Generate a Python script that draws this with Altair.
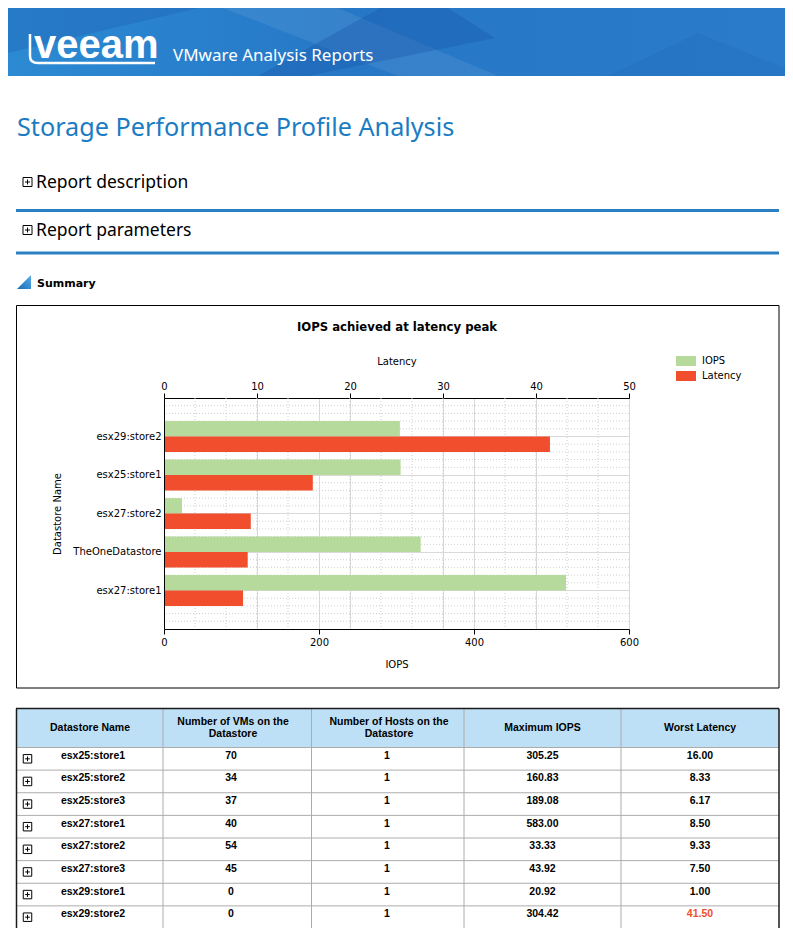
import altair as alt
import pandas as pd

# ---------------- data ----------------
stores = ["esx29:store2", "esx25:store1", "esx27:store2", "TheOneDatastore", "esx27:store1"]
iops_at_peak = [304.4, 305.3, 23.2, 331.2, 518.7]
latency_at_peak = [41.5, 16.0, 9.33, 9.0, 8.5]
series_names = ["IOPS", "Latency"]
series_colors = ["#b5da9b", "#f04e2c"]

iops_major = [0, 200, 400, 600]
iops_minor = [40, 80, 120, 160, 240, 280, 320, 360, 440, 480, 520, 560]
latency_ticks = [0, 10, 20, 30, 40, 50]
row_minor = [1, 2, 3, 4, 6, 7, 8, 9, 11, 12, 13, 14, 16, 17, 18, 19, 21, 22, 23, 24, 26, 27, 28, 29]

tbl_names = ["esx25:store1", "esx25:store2", "esx25:store3", "esx27:store1",
             "esx27:store2", "esx27:store3", "esx29:store1", "esx29:store2"]
tbl_vms = [70, 34, 37, 40, 54, 45, 0, 0]
tbl_hosts = [1, 1, 1, 1, 1, 1, 1, 1]
tbl_max_iops = [305.25, 160.83, 189.08, 583.00, 33.33, 43.92, 20.92, 304.42]
tbl_worst_latency = [16.00, 8.33, 6.17, 8.50, 9.33, 7.50, 1.00, 41.50]
tbl_headers = ["Datastore Name", "Number of VMs on the\nDatastore",
               "Number of Hosts on the\nDatastore", "Maximum IOPS", "Worst Latency"]

# ---------------- layout helpers (page px -> view px) ----------------
OX, OY = 164, 398
W, H = 465, 231


def X(px):
    return px - OX


def Y(py):
    return py - OY


one = pd.DataFrame({"k": [0]})


def deco():
    return alt.Chart(one)


def text_at(txt, px, py, size, font, color="#000", weight="normal", align="left", lb=None):
    kw = dict(text=txt, font=font, fontSize=size, fontWeight=weight, color=color,
              align=align, baseline="alphabetic")
    if lb:
        kw["lineBreak"] = lb
        kw["lineHeight"] = 11.7
    return deco().mark_text(**kw).encode(x=alt.value(X(px)), y=alt.value(Y(py)))


def shape_at(path, px, py, size, fill=None, stroke=None, sw=1, opacity=1.0):
    kw = dict(shape=path, size=size, opacity=opacity)
    if fill is not None:
        kw.update(filled=True, fill=fill, strokeWidth=0)
    else:
        kw.update(filled=False, stroke=stroke, strokeWidth=sw)
    return deco().mark_point(**kw).encode(x=alt.value(X(px)), y=alt.value(Y(py)))


def hline(py, px1, px2, color, sw):
    return deco().mark_rule(color=color, strokeWidth=sw).encode(
        x=alt.value(X(px1)), x2=alt.value(X(px2)), y=alt.value(Y(py)))


def vline(px, py1, py2, color, sw):
    return deco().mark_rule(color=color, strokeWidth=sw).encode(
        x=alt.value(X(px)), y=alt.value(Y(py1)), y2=alt.value(Y(py2)))


layers = []

# ---------------- banner ----------------
layers.append(deco().mark_rect(fill=alt.Gradient(
    gradient="linear",
    stops=[alt.GradientStop(color="#2c8ad2", offset=0),
           alt.GradientStop(color="#2677c6", offset=0.45),
           alt.GradientStop(color="#2a7ccb", offset=1)],
    x1=0, x2=1, y1=0, y2=0)).encode(
    x=alt.value(X(8)), x2=alt.value(X(785)), y=alt.value(Y(8)), y2=alt.value(Y(76))))
layers.append(shape_at("M0,0H190L0,45Z", 8, 8, 4, fill="#1d5fb2", opacity=0.35))
layers.append(shape_at("M215,0H330L490,68H390Z", 8, 8, 4, fill="#ffffff", opacity=0.08))
layers.append(shape_at("M372,0H440L487,30L300,68H250Z", 8, 8, 4, fill="#1a55a8", opacity=0.35))
layers.append(shape_at("M600,68L690,25L777,60V68Z", 8, 8, 4, fill="#1a55a8", opacity=0.15))
layers.append(shape_at("M0,0V22Q0,29,8,29H125", 30, 34, 4, stroke="#ffffff", sw=2.5))
layers.append(text_at("veeam", 34, 58, 40, "Liberation Sans", "#ffffff", "bold"))
layers.append(text_at("VMware Analysis Reports", 173, 61, 17, "Noto Sans", "#ffffff"))

# ---------------- headings ----------------
PLUS = "M-1,-1H1V1H-1Z M-0.55,0H0.55 M0,-0.55V0.55"
layers.append(text_at("Storage Performance Profile Analysis", 17, 135.5, 25.2, "Noto Sans", "#1b7cc3"))
layers.append(shape_at(PLUS, 27.5, 182, 81, stroke="#000000"))
layers.append(text_at("Report description", 36, 188, 17.5, "Noto Sans"))
layers.append(hline(210.5, 16, 779, "#2a80c2", 3))
layers.append(shape_at(PLUS, 27.5, 230, 81, stroke="#000000"))
layers.append(text_at("Report parameters", 36, 236, 17.5, "Noto Sans"))
layers.append(hline(253, 16, 779, "#2a80c2", 3))
layers.append(shape_at("M14,0V14H0Z", 17, 275, 4, fill=alt.Gradient(
    gradient="linear",
    stops=[alt.GradientStop(color="#5aaee6", offset=0), alt.GradientStop(color="#1a6cb8", offset=1)],
    x1=1, x2=0, y1=0, y2=1)))
layers.append(text_at("Summary", 37, 287, 11, "DejaVu Sans", "#000", "bold"))

# ---------------- chart box ----------------
layers.append(deco().mark_rect(fillOpacity=0, stroke="#000000", strokeWidth=1).encode(
    x=alt.value(X(16.5)), x2=alt.value(X(779)), y=alt.value(Y(305.5)), y2=alt.value(Y(688))))
layers.append(text_at("IOPS achieved at latency peak", 397, 331, 11.7, "DejaVu Sans", "#000", "bold", "center"))

# ---------------- bar chart ----------------
chart_df = pd.DataFrame({"store": stores, "iops": iops_at_peak, "latency": latency_at_peak})
yscale = alt.Scale(domain=stores, paddingInner=0, paddingOuter=0.5)
iops_scale = alt.Scale(domain=[0, 600], nice=False, zero=True)
lat_scale = alt.Scale(domain=[0, 50], nice=False, zero=True)
color_scale = alt.Scale(domain=series_names, range=series_colors)

layers.append(alt.Chart(pd.DataFrame({"v": iops_minor})).mark_rule(
    color="#cfcfcf", strokeDash=[1, 2], strokeWidth=1).encode(
    x=alt.X("v:Q", scale=iops_scale, axis=None)))
layers.append(alt.Chart(pd.DataFrame({"h": row_minor})).mark_rule(
    color="#cfcfcf", strokeDash=[1, 2], strokeWidth=1).encode(
    y=alt.Y("h:Q", scale=alt.Scale(domain=[0, 30], nice=False, zero=False), axis=None)))

legend = alt.Legend(title=None, orient="none", legendX=X(681), legendY=Y(356),
                    symbolType="M-2,-1H2V1H-2Z", symbolSize=100, symbolStrokeWidth=0,
                    labelFont="DejaVu Sans", labelFontSize=10, labelColor="#000",
                    rowPadding=5, labelOffset=11, direction="vertical")

green = alt.Chart(chart_df).transform_calculate(series="'IOPS'").mark_bar(
    height=15.4, yOffset=-7.7).encode(
    y=alt.Y("store:N", scale=yscale, sort=stores,
            axis=alt.Axis(orient="left", title="Datastore Name", grid=False, ticks=False,
                          labelPadding=3, titlePadding=10, zindex=1)),
    x=alt.X("iops:Q", scale=iops_scale,
            axis=alt.Axis(orient="bottom", values=iops_major, title="IOPS", grid=True,
                          tickSize=5, labelPadding=3, titlePadding=12, labelFlush=False)),
    color=alt.Color("series:N", scale=color_scale, legend=legend))

red = alt.Chart(chart_df).transform_calculate(series="'Latency'").mark_bar(
    height=15.4, yOffset=7.7).encode(
    y=alt.Y("store:N", scale=yscale, sort=stores,
            axis=alt.Axis(orient="right", title=None, grid=True, labels=False, ticks=False,
                          domain=False)),
    x=alt.X("latency:Q", scale=lat_scale,
            axis=alt.Axis(orient="top", values=latency_ticks, title="Latency", grid=True,
                          tickSize=5, labelPadding=2, titlePadding=15, labelFlush=False)),
    color=alt.Color("series:N", scale=color_scale))
layers += [green, red]

# ---------------- table ----------------
col_bounds = [16, 163, 311.5, 464, 621, 779]
col_centers = [93, 231, 387, 542.5, 700]
TOP, HEAD_BOT, TBL_BOT = 708.5, 747.5, 928.5
tbl = pd.DataFrame({"name": tbl_names, "vms": tbl_vms, "hosts": tbl_hosts,
                    "iops": tbl_max_iops, "worst": tbl_worst_latency})
row_scale = alt.Scale(domain=tbl_names, range=[Y(HEAD_BOT), Y(TBL_BOT)], paddingInner=0, paddingOuter=0)

layers.append(deco().mark_rect(fill="#bee0f6").encode(
    x=alt.value(X(16)), x2=alt.value(X(779)), y=alt.value(Y(TOP)), y2=alt.value(Y(HEAD_BOT))))
for hdr, cx in zip(tbl_headers, col_centers):
    if "\n" in hdr:
        layers.append(text_at(hdr, cx + 2, 725, 10.5, "Liberation Sans", "#000", "bold", "center", "\n"))
    else:
        layers.append(text_at(hdr, cx - 3 if cx < 100 else cx, 731, 10.5, "Liberation Sans", "#000", "bold", "center"))

layers.append(alt.Chart(tbl).mark_rule(color="#acacac", strokeWidth=1).encode(
    y=alt.Y("name:N", scale=row_scale, bandPosition=0, axis=None),
    x=alt.value(X(16)), x2=alt.value(X(779))))
for bx in col_bounds[1:-1]:
    layers.append(vline(bx, TOP, TBL_BOT, "#acacac", 1))
layers.append(hline(TOP, 16, 779, "#1a1a1a", 1.5))
layers.append(vline(16.5, TOP, TBL_BOT, "#1a1a1a", 1.5))
layers.append(vline(779, TOP, TBL_BOT, "#1a1a1a", 1.5))

layers.append(alt.Chart(tbl).mark_point(shape=PLUS, size=72, filled=False, color="#000",
                                        strokeWidth=1, opacity=1).encode(
    y=alt.Y("name:N", scale=row_scale, bandPosition=0.45, axis=None),
    x=alt.value(X(27.5))))

cell_font = dict(font="Liberation Sans", fontSize=10.5, fontWeight="bold",
                 baseline="alphabetic", align="center")
cols = [("name", "name:N", None), ("vms", "vms:Q", "d"), ("hosts", "hosts:Q", "d"),
        ("iops", "iops:Q", ".2f"), ("worst", "worst:Q", ".2f")]
for (key, fdef, fmt), cx in zip(cols, col_centers):
    txt = alt.Text(fdef, format=fmt) if fmt else alt.Text(fdef)
    enc = dict(y=alt.Y("name:N", scale=row_scale, bandPosition=0.5, axis=None),
               x=alt.value(X(cx)), text=txt)
    if key == "worst":
        enc["color"] = alt.condition(alt.datum.worst > 20, alt.value("#f04e2c"), alt.value("#000"))
    else:
        enc["color"] = alt.value("#000")
    layers.append(alt.Chart(tbl).mark_text(**cell_font).encode(**enc))

chart = alt.layer(*layers).resolve_scale(x="independent", y="independent").properties(
    width=W, height=H, padding=0
).configure_view(strokeWidth=0).configure_axis(
    labelFont="DejaVu Sans", labelFontSize=10, labelColor="#000",
    titleFont="DejaVu Sans", titleFontSize=10, titleFontWeight="normal", titleColor="#000",
    domainColor="#000", tickColor="#000", gridColor="#d9d9d9"
)

chart.save("out.html", embed_options={"renderer": "svg", "actions": False})
